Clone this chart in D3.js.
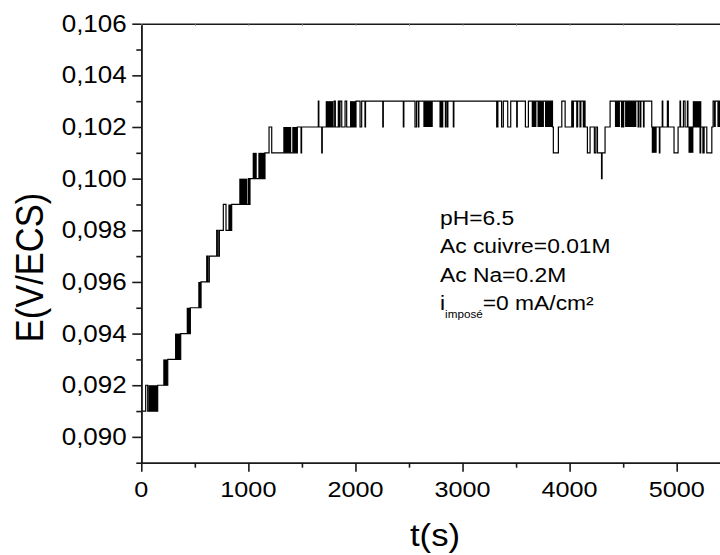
<!DOCTYPE html>
<html>
<head>
<meta charset="utf-8">
<script src="https://cdn.jsdelivr.net/npm/d3@7"></script>
<style>
  html, body { margin: 0; padding: 0; background: #fff; }
  svg { display: block; }
  text { font-family: "Liberation Sans", Arial, sans-serif; fill: #000; }
</style>
</head>
<body>
<svg id="chart" width="720" height="555"></svg>
<script>
// ---------- data ----------
const xMajorTicks = [0, 1000, 2000, 3000, 4000, 5000];
const xMinorTicks = [500, 1500, 2500, 3500, 4500, 5500];
const yMajorTicks = [0.090, 0.092, 0.094, 0.096, 0.098, 0.100, 0.102, 0.104, 0.106];
const yMinorTicks = [0.089, 0.091, 0.093, 0.095, 0.097, 0.099, 0.101, 0.103, 0.105];

// potential steps: [t (s), E (V/ECS)] — value holds until the next point
const stepT = [
  0, 41, 60, 153, 247, 368, 458, 558,
  611, 622, 635,
  704, 716, 729,
  766, 791, 844,
  1000, 1006, 1015,
  1155,
  1193, 1218,
  1457,
  1492, 1497,
  1653, 1658,
  1685, 1690,
  1800, 1812,
  1840, 1846, 1856, 1872,
  1903, 1918,
  2005,
  2043, 2058,
  2089, 2094,
  2255, 2260,
  2447, 2452,
  2556, 2570, 2587, 2592,
  2790, 2795, 2805, 2815, 2840, 2845, 2858, 2863,
  2914, 2919,
  3319, 3330, 3365, 3381,
  3422, 3450,
  3506, 3511,
  3587, 3615,
  3840,
  3848, 3895,
  3927, 3958,
  4020, 4028, 4035, 4067, 4075, 4097, 4105, 4128, 4134, 4144,
  4166, 4191,
  4231, 4245, 4260,
  4298, 4303,
  4331,
  4378,
  4485, 4490, 4500, 4505,
  4640, 4645, 4660, 4665, 4690, 4695,
  4767,
  4838, 4843,
  4865, 4870,
  4913, 4922,
  4975, 5013,
  5031, 5036, 5063, 5078, 5100, 5105,
  5218, 5224, 5245, 5256,
  5281, 5328,
  5340, 5420, 5480
];
const stepE = [
  0.091, 0.092, 0.091, 0.092, 0.093, 0.094, 0.095, 0.096,
  0.097, 0.096, 0.097,
  0.098, 0.097, 0.098,
  0.099, 0.098, 0.099,
  0.100, 0.099, 0.100,
  0.101,
  0.102, 0.101,
  0.102,
  0.101, 0.102,
  0.103, 0.102,
  0.101, 0.102,
  0.103, 0.102,
  0.103, 0.102, 0.103, 0.102,
  0.103, 0.102,
  0.103,
  0.102, 0.103,
  0.102, 0.103,
  0.102, 0.103,
  0.102, 0.103,
  0.102, 0.103, 0.102, 0.103,
  0.102, 0.103, 0.102, 0.103, 0.102, 0.103, 0.102, 0.103,
  0.102, 0.103,
  0.102, 0.103, 0.102, 0.103,
  0.102, 0.103,
  0.102, 0.103,
  0.102, 0.103,
  0.102,
  0.101, 0.102,
  0.103, 0.102,
  0.103, 0.102, 0.103, 0.102, 0.103, 0.102, 0.103, 0.102, 0.103, 0.102,
  0.101, 0.102,
  0.101, 0.102, 0.101,
  0.100, 0.101,
  0.102,
  0.103,
  0.102, 0.103, 0.102, 0.103,
  0.102, 0.103, 0.102, 0.103, 0.102, 0.103,
  0.102,
  0.101, 0.102,
  0.103, 0.102,
  0.103, 0.102,
  0.101, 0.102,
  0.103, 0.102, 0.103, 0.102, 0.103, 0.102,
  0.101, 0.102, 0.101, 0.102,
  0.101, 0.102,
  0.103, 0.102, 0.102
];

// dense toggling between two levels: [t start, t end, E low, E high]
const denseStart = [65, 205, 315, 424, 532, 813, 915, 1040, 1093, 1326, 1410, 1722, 1949, 2634,
                    3646, 3700, 3770, 4423, 4518, 4767, 5110, 5150, 5345, 5380];
const denseEnd   = [153, 247, 368, 458, 558, 844, 990, 1078, 1155, 1400, 1457, 1793, 2005, 2722,
                    3690, 3760, 3840, 4470, 4623, 4813, 5156, 5230, 5365, 5420];
const denseLow   = [0.091, 0.092, 0.093, 0.094, 0.095, 0.098, 0.099, 0.100, 0.100, 0.101, 0.101, 0.102, 0.102, 0.102,
                    0.102, 0.102, 0.102, 0.102, 0.102, 0.101, 0.101, 0.102, 0.102, 0.102];
const denseHigh  = [0.092, 0.093, 0.094, 0.095, 0.096, 0.099, 0.100, 0.101, 0.101, 0.102, 0.102, 0.103, 0.103, 0.103,
                    0.103, 0.103, 0.103, 0.103, 0.103, 0.102, 0.102, 0.103, 0.103, 0.103];

const annotation = ["pH=6.5", "Ac cuivre=0.01M", "Ac Na=0.2M"];
const xTitle = "t(s)";
const yTitle = "E(V/ECS)";

// ---------- chart ----------
const svg = d3.select("#chart");
const SX = 1.12; // horizontal glyph stretch of the reference
const axisColor = "#1a1a1a";

const x = d3.scaleLinear().domain([0, 5500]).range([141.3, 141.3 + 5.5 * 107.08]);
const y = d3.scaleLinear().domain([0.089, 0.106]).range([462.7, 23.7]);

const fmtY = v => d3.format(".3f")(v).replace(".", ",");

// clip
svg.append("defs").append("clipPath").attr("id", "plotclip")
  .append("rect").attr("x", x(0)).attr("y", y(0.106) - 1)
  .attr("width", 720 - x(0)).attr("height", y(0.089) - y(0.106) + 2);

const plot = svg.append("g").attr("clip-path", "url(#plotclip)");

// dense bands
const bands = denseStart.map((s, i) => ({ s, e: denseEnd[i], lo: denseLow[i], hi: denseHigh[i] }));
plot.selectAll("rect.band").data(bands).join("rect")
  .attr("class", "band")
  .attr("x", d => x(d.s))
  .attr("width", d => x(d.e) - x(d.s))
  .attr("y", d => y(d.hi))
  .attr("height", d => y(d.lo) - y(d.hi))
  .attr("fill", "#000");

// step line
const pts = stepT.map((t, i) => [t, stepE[i]]);
plot.append("path")
  .datum(pts)
  .attr("fill", "none")
  .attr("stroke", "#000")
  .attr("stroke-width", 1.2)
  .attr("d", d3.line().x(d => x(d[0])).y(d => y(d[1])).curve(d3.curveStepAfter));

// axes
function styleAxis(g, w) {
  g.selectAll("path, line").attr("stroke", axisColor).attr("stroke-width", w);
  g.selectAll("text").remove();
}
svg.append("g").attr("transform", `translate(${x(0)},0)`)
  .call(d3.axisLeft(y).tickValues(yMinorTicks).tickSize(5).tickSizeOuter(0).tickFormat(""))
  .call(g => styleAxis(g, 1.6));
svg.append("g").attr("transform", `translate(${x(0)},0)`)
  .call(d3.axisLeft(y).tickValues(yMajorTicks).tickSize(9).tickSizeOuter(0).tickFormat(""))
  .call(g => styleAxis(g, 1.6));
svg.append("g").attr("transform", `translate(0,${y(0.089)})`)
  .call(d3.axisBottom(x).tickValues(xMinorTicks).tickSize(5).tickSizeOuter(0).tickFormat(""))
  .call(g => styleAxis(g, 1.6));
svg.append("g").attr("transform", `translate(0,${y(0.089)})`)
  .call(d3.axisBottom(x).tickValues(xMajorTicks).tickSize(9).tickSizeOuter(0).tickFormat(""))
  .call(g => styleAxis(g, 1.6));
// top frame with tiny inner ticks
svg.append("g").attr("transform", `translate(0,${y(0.106)})`)
  .call(d3.axisTop(x).tickValues(xMajorTicks.concat(xMinorTicks)).tickSize(-2).tickSizeOuter(0).tickFormat(""))
  .call(g => { styleAxis(g, 1.6); g.selectAll("line").attr("stroke-width", 1).attr("stroke", "#777"); });

// tick labels
svg.selectAll("text.ylab").data(yMajorTicks).join("text")
  .attr("class", "ylab")
  .attr("text-anchor", "end")
  .attr("font-size", 23.2)
  .attr("transform", d => `translate(${x(0) - 14.6},${y(d) + 8}) scale(${SX},1)`)
  .text(fmtY);
svg.selectAll("text.xlab").data(xMajorTicks).join("text")
  .attr("class", "xlab")
  .attr("text-anchor", "middle")
  .attr("font-size", 22.5)
  .attr("transform", d => `translate(${x(d)},${y(0.089) + 34.6}) scale(${SX},1)`)
  .text(d => String(d));

// axis titles
svg.append("text")
  .attr("text-anchor", "middle")
  .attr("font-size", 31)
  .attr("transform", `translate(435,546) scale(${SX},1)`)
  .text(xTitle);
svg.append("text")
  .attr("text-anchor", "middle")
  .attr("font-size", 34.5)
  .attr("transform", `translate(43.3,267.5) scale(${SX},1) rotate(-90)`)
  .text(yTitle);

// annotation
const ann = svg.append("g").attr("transform", `translate(440,0)`);
annotation.forEach((s, i) => {
  ann.append("text")
    .attr("font-size", 19.5)
    .attr("transform", `translate(0,${225 + i * 28.3}) scale(1.17,1)`)
    .text(s);
});
const t4 = ann.append("text")
  .attr("font-size", 19.5)
  .attr("transform", `translate(0,${225 + 3 * 28.3}) scale(1.17,1)`);
t4.append("tspan").text("i");
t4.append("tspan").attr("font-size", 10).attr("dy", 8).text("imposé");
t4.append("tspan").attr("dy", -8).text("=0 mA/cm²");
</script>
</body>
</html>
